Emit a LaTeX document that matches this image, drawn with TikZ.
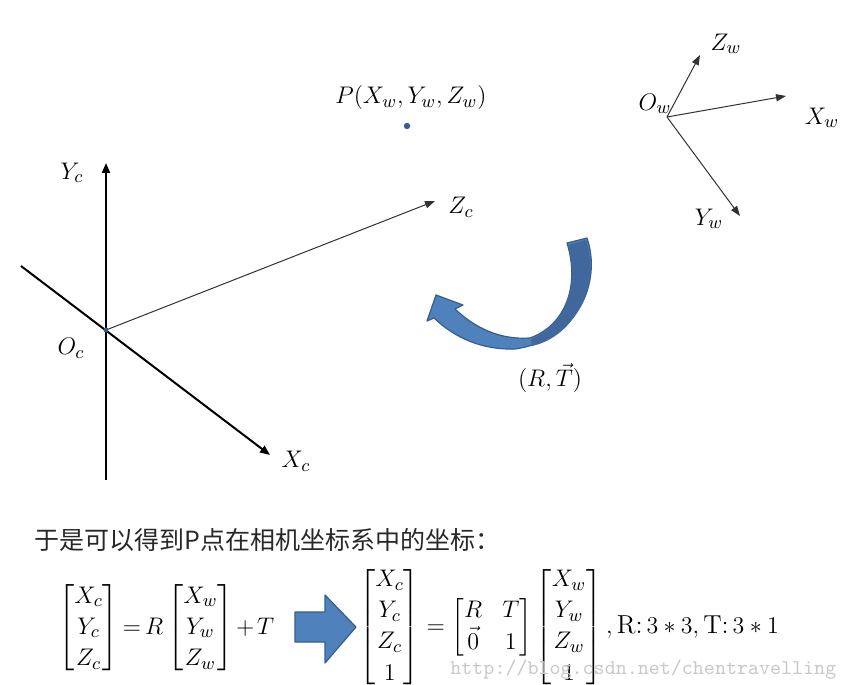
\documentclass[tikz,border=0pt]{standalone}
\usepackage{amsmath}
\usepackage{fontspec}
\usepackage{xcolor}
\usepackage{tikz}
\usetikzlibrary{arrows.meta,positioning}
\newfontfamily\cjk{Noto Sans CJK SC}
\definecolor{arrowfill}{RGB}{79,129,189}
\definecolor{arrowdark}{RGB}{64,104,156}
\definecolor{arrowline}{RGB}{56,93,138}
\definecolor{axisgray}{RGB}{50,50,50}
\definecolor{textgray}{RGB}{40,40,40}
\definecolor{markgray}{RGB}{200,200,200}

\begin{document}
\begin{tikzpicture}[x=0.5pt, y=-0.5pt,
  lbl/.style={inner sep=0pt, font=\fontsize{13}{15.6}\selectfont},
  thickaxis/.style={-{Triangle[length=5pt, width=4pt]}, line width=1pt, black},
  thinaxis/.style={-{Triangle[length=5pt, width=3.6pt]}, line width=0.5pt, axisgray},
  blockarrow/.style={fill=arrowfill, draw=arrowline, line width=0.6pt, line join=round}
]
  \useasboundingbox (0,0) rectangle (849,684);

  % camera frame
  \coordinate (Oc) at (106,330);
  \coordinate (YcBot) at (106,480);
  \coordinate (YcTop) at (106,163);
  \coordinate (XcBack) at (21,266);
  \coordinate (XcTip) at (270,455);
  \coordinate (ZcTip) at (435,201);
  \draw[thickaxis] (YcBot) -- (YcTop);
  \draw[thickaxis] (XcBack) -- (XcTip);
  \draw[thinaxis] (Oc) -- (ZcTip);
  \fill[arrowline] (Oc) circle (1.2pt);
  \node[lbl] (yc) at (72,173) {$Y_c$};
  \node[lbl] (oc) at (71,348) {$O_c$};
  \node[lbl] (xc) at (296,461) {$X_c$};
  \node[lbl] (zc) at (461,207) {$Z_c$};

  % world point
  \fill[arrowline] (407,126) circle (1.6pt);
  \node[lbl] (pw) at (411,98) {$P(X_w,Y_w,Z_w)$};

  % world frame
  \coordinate (Ow) at (667,117);
  \coordinate (ZwTip) at (700,55);
  \coordinate (XwTip) at (786,96);
  \coordinate (YwTip) at (740,216);
  \draw[thinaxis] (Ow) -- (ZwTip);
  \draw[thinaxis] (Ow) -- (XwTip);
  \draw[thinaxis] (Ow) -- (YwTip);
  \node[lbl] (ow) at (655,104) {$O_w$};
  \node[lbl] (zw) at (726,44) {$Z_w$};
  \node[lbl] (xw) at (822,118) {$X_w$};
  \node[lbl] (yw) at (709,219) {$Y_w$};

  % rotation / translation arrow
  \path[blockarrow] (587,238) .. controls (602,282) and (578,340) .. (515,349)
    .. controls (482,350) and (455,338) .. (434,318)
    -- (427,321) -- (436,295) -- (463,305) -- (455,309)
    .. controls (475,328) and (500,340) .. (530,338)
    .. controls (566,325) and (580,285) .. (567,243) -- cycle;
  \path[fill=arrowdark] (586,240) .. controls (600,282) and (577,336) .. (532,346)
    -- (531,339) .. controls (566,326) and (579,286) .. (568,245) -- cycle;
  \node[lbl] (rt) at (550,378) {$(R,\vec{T})$};

  % equations
  \node[lbl, anchor=west, text=textgray, font=\cjk\fontsize{12.5}{15}\selectfont] (txt) at (34,540)
    {于是可以得到P点在相机坐标系中的坐标：};
  \node[lbl, anchor=west] (eq1) at (58,628)
    {$\thickmuskip=3mu\medmuskip=2mu\begin{bmatrix}X_c\\Y_c\\Z_c\end{bmatrix}=R\begin{bmatrix}X_w\\Y_w\\Z_w\end{bmatrix}+T$};
  \path[blockarrow] (295,612) -- (325,612) -- (325,595) -- (356,627)
    -- (325,663) -- (325,642) -- (295,642) -- cycle;
  \node[lbl, anchor=west] (eq2) at (359,627)
    {$\begin{bmatrix}X_c\\Y_c\\Z_c\\1\end{bmatrix}=\begin{bmatrix}R&T\\\vec{0}&1\end{bmatrix}\begin{bmatrix}X_w\\Y_w\\Z_w\\1\end{bmatrix}{,}\,\text{R:}\,3\ast3,\text{T:}\,3\ast1$};
  \node[lbl, anchor=west, font=\ttfamily\fontsize{10.5}{12}\selectfont, text=markgray] (mark) at (450,670)
    {http://blog.csdn.net/chentravelling};
\end{tikzpicture}
\end{document}
